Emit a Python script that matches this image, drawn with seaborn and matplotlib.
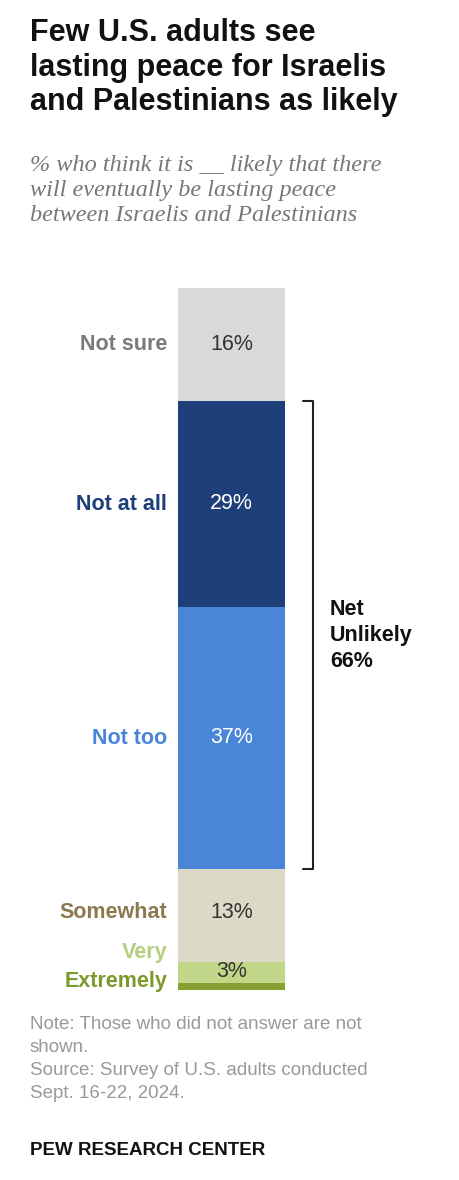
import numpy as np
import pandas as pd
import matplotlib
matplotlib.use("Agg")
import matplotlib.pyplot as plt
import seaborn as sns

# Datos (de arriba hacia abajo)
categorias = ['Not sure', 'Not at all', 'Not too', 'Somewhat', 'Very', 'Extremely']
valores = [16, 29, 37, 13, 3, 1]
etiquetas = ['16%', '29%', '37%', '13%', '3%', '']
colores = ['#d9d9d9', '#1f3f7a', '#4a86d8', '#dcd9c6', '#c2d68a', '#86a033']
color_texto = ['#7a7a7a', '#1f3f7a', '#4a86d8', '#8c7a4e', '#b5cf80', '#7c9a2c']
color_valor = ['#333333', 'white', 'white', '#333333', '#333333', '#333333']
neto_unlikely = 66

sns.set_style('white')
plt.rcParams['font.family'] = ['Liberation Sans', 'DejaVu Sans']

W, H = 459, 1180
fig = plt.figure(figsize=(W / 100, H / 100), dpi=100)
ax = fig.add_axes([178 / W, (H - 990) / H, 107 / W, 702 / H])

acum = np.cumsum(valores)
df = pd.DataFrame({'grupo': ['x'] * len(valores), 'acum': acum, 'cat': categorias})
# barras acumuladas superpuestas, de mayor a menor
for i in range(len(valores) - 1, -1, -1):
    sns.barplot(data=df.iloc[[i]], x='grupo', y='acum', color=colores[i],
                width=1.0, saturation=1, ax=ax, linewidth=0)

ax.set_xlim(-0.5, 0.5)
ax.set_ylim(acum[-1], 0)
ax.axis('off')

inicio = np.concatenate([[0], acum[:-1]])
for i, cat in enumerate(categorias):
    centro = inicio[i] + valores[i] / 2
    if cat == 'Very':
        y_lab = inicio[i] - 1.3
    elif cat == 'Extremely':
        y_lab = inicio[i] - 0.2
    elif cat == 'Somewhat':
        y_lab = centro - 0.5
    else:
        y_lab = centro
    ax.text(-0.6, y_lab, cat, ha='right', va='center', fontsize=15.5,
            fontweight='bold', color=color_texto[i], clip_on=False)
    if etiquetas[i]:
        ax.text(0, centro - (0.5 if cat == 'Somewhat' else 0.1), etiquetas[i],
                ha='center', va='center', fontsize=15.5, color=color_valor[i])

# corchete Net Unlikely
y0, y1 = inicio[1], acum[2]
bx = 0.76
ax.plot([bx - 0.09, bx, bx, bx - 0.09], [y0, y0, y1, y1], color='#222222',
        lw=1.5, clip_on=False, solid_joinstyle='round')
ax.text(0.92, (y0 + y1) / 2, f'Net\nUnlikely\n{neto_unlikely}%', ha='left',
        va='center', fontsize=15.5, fontweight='bold', color='#111111',
        linespacing=1.3, clip_on=False)

def px(x, y):
    return x / W, 1 - y / H

fig.text(*px(30, 18), 'Few U.S. adults see\nlasting peace for Israelis\nand Palestinians as likely',
         ha='left', va='top', fontsize=22, fontweight='bold', color='#111111',
         linespacing=1.2)
fig.text(*px(30, 155), '% who think it is __ likely that there\nwill eventually be lasting peace\nbetween Israelis and Palestinians',
         ha='left', va='top', fontsize=17.5, style='italic', color='#777777',
         family=['Liberation Serif', 'DejaVu Serif'], linespacing=1.25)
fig.text(*px(30, 1016), 'Note: Those who did not answer are not\nshown.\nSource: Survey of U.S. adults conducted\nSept. 16-22, 2024.',
         ha='left', va='top', fontsize=13.5, color='#999999', linespacing=1.45)
fig.text(*px(30, 1142), 'PEW RESEARCH CENTER', ha='left', va='top', fontsize=13.5,
         fontweight='bold', color='#111111')

fig.savefig('out.png', dpi=100)
